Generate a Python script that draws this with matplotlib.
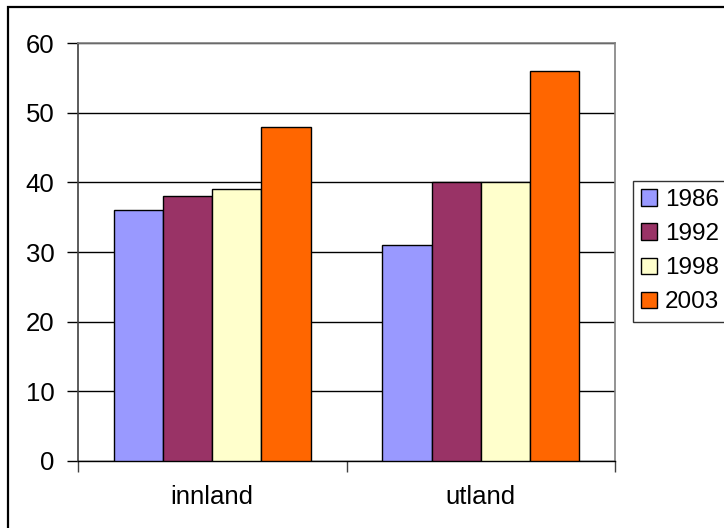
import matplotlib
matplotlib.use("Agg")
import matplotlib.pyplot as plt
from matplotlib.patches import Rectangle, Patch
import numpy as np

plt.rcParams['font.family'] = ['Liberation Sans', 'DejaVu Sans']

categories = ["innland", "utland"]
years = ["1986", "1992", "1998", "2003"]
values_1986 = [36, 31]
values_1992 = [38, 40]
values_1998 = [39, 40]
values_2003 = [48, 56]
series = [values_1986, values_1992, values_1998, values_2003]
colors = ["#9999FF", "#993366", "#FFFFCC", "#FF6600"]
yticks = [0, 10, 20, 30, 40, 50, 60]

FS = 18.5
LEG_FS = 17.5
W, H = 724, 528
fig = plt.figure(figsize=(W / 100, H / 100), dpi=100)

# chart frame
fig.add_artist(Rectangle((8 / W, -0.1), 1.2, 1.1 - 7 / H, transform=fig.transFigure,
                         fill=False, edgecolor="black", linewidth=1.6))

ax = fig.add_axes([78 / W, (H - 461) / H, (615 - 78) / W, (461 - 43) / H])
ax.set_zorder(2)

bar_w = 0.183
centers = np.arange(len(categories)) + 0.5
for i, (vals, col, yr) in enumerate(zip(series, colors, years)):
    offs = (i - 1.5) * bar_w
    ax.bar(centers + offs, vals, width=bar_w, color=col, edgecolor="black",
           linewidth=1.0, label=yr, zorder=3)

ax.set_xlim(0, len(categories))
ax.set_ylim(0, 60)
ax.set_yticks(yticks)
ax.set_yticklabels([str(t) for t in yticks], fontsize=FS)
ax.yaxis.grid(True, color="black", linewidth=1.0, zorder=0)
ax.set_axisbelow(True)

ax.set_xticks(np.arange(len(categories) + 1))
ax.set_xticklabels([])
ax.set_xticks(centers, minor=True)
ax.set_xticklabels(categories, minor=True, fontsize=FS)
ax.tick_params(axis="x", which="major", direction="out", length=8, width=1, color="#404040")
ax.tick_params(axis="x", which="minor", length=0, pad=17)
ax.tick_params(axis="y", direction="out", length=8, width=1, color="black", pad=9)

for s in ["top", "right"]:
    ax.spines[s].set_color("#808080")
    ax.spines[s].set_linewidth(1.2)
ax.spines["left"].set_color("#404040")
ax.spines["bottom"].set_color("black")
ax.spines["left"].set_linewidth(1.2)
ax.spines["bottom"].set_linewidth(1.0)

handles = [Patch(facecolor=c, edgecolor="black", linewidth=1.0) for c in colors]
leg = fig.legend(handles, years, loc="upper left",
                 bbox_to_anchor=(633 / W, 1 - 181 / H), fontsize=LEG_FS,
                 frameon=True, fancybox=False, shadow=False, borderaxespad=0,
                 handlelength=0.66, handleheight=0.66, handletextpad=0.33,
                 labelspacing=0.5, borderpad=0.33)
leg.get_frame().set_edgecolor("black")
leg.get_frame().set_linewidth(1.0)

fig.savefig("out.png", dpi=100)
